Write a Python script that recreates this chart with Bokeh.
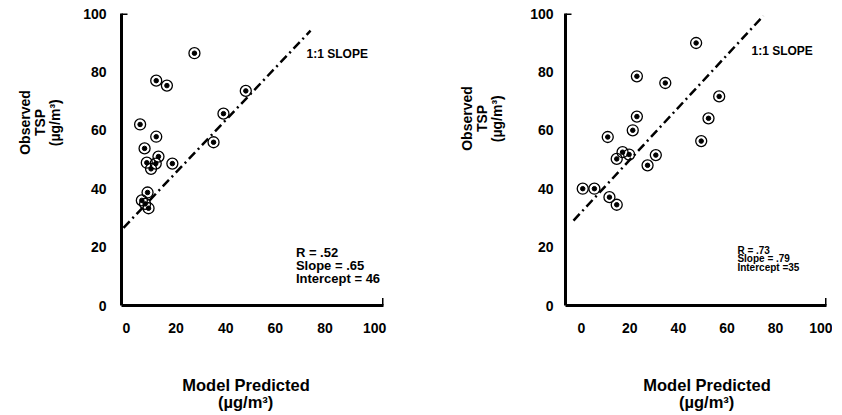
import math
from bokeh.plotting import figure
from bokeh.models import Range1d, FixedTicker, Label, Arrow, TeeHead, Title
from bokeh.layouts import row
from bokeh.embed import file_html
from bokeh.resources import INLINE

# ---------------- data ----------------
ticks = [0, 20, 40, 60, 80, 100]

left_pred = [27.4, 12.0, 16.3, 48.1, 39.1, 5.5, 12.0, 35.1, 7.3, 12.9, 18.5, 8.2, 9.9, 11.8, 8.5, 6.2, 7.5, 8.9]
left_obs = [86.4, 77.0, 75.3, 73.5, 65.7, 62.0, 57.8, 55.9, 53.8, 51.0, 48.6, 48.9, 46.8, 48.6, 38.7, 36.0, 34.8, 33.3]
left_line_x = [-1.2, 74.2]
left_line_y = [26.6, 94.1]
left_stats = ["R = .52", "Slope = .65", "Intercept = 46"]

right_pred = [47.3, 22.9, 34.6, 56.8, 22.9, 52.4, 10.9, 21.2, 49.4, 17.0, 19.7, 14.6, 30.7, 27.3, 0.6, 5.4, 11.6, 14.6]
right_obs = [89.9, 78.5, 76.2, 71.6, 64.7, 64.1, 57.7, 60.0, 56.3, 52.5, 51.7, 50.2, 51.5, 48.0, 40.0, 40.0, 37.1, 34.5]
right_line_x = [-3.2, 75.0]
right_line_y = [29.1, 99.2]
right_stats = ["R = .73", "Slope = .79", "Intercept =35"]

slope_text = "1:1 SLOPE"
x_title = ["Model Predicted", "(\u00b5g/m\u00b3)"]
y_title = ["Observed", "TSP", "(\u00b5g/m\u00b3)"]

FONT = "Liberation Sans"


def title(text, size, **kw):
    return Title(text=text, text_font=FONT, text_font_style="bold",
                 text_font_size=size, text_color="black", **kw)


def make_panel(fw, bl, br, x_start, x_end, pred, obs, lx, ly, stats,
               slope_xy, stats_x, stats_y, stats_size, y_std,
               xt_offsets, yt_offsets, yspacer_std):
    p = figure(frame_width=fw, frame_height=292, output_backend="svg", toolbar_location=None,
               x_range=Range1d(x_start, x_end), y_range=Range1d(0, 100),
               min_border_left=bl, min_border_right=br, min_border_top=13,
               min_border_bottom=107)
    p.outline_line_color = None
    p.xgrid.visible = False
    p.ygrid.visible = False
    for ax in (p.xaxis, p.yaxis):
        ax.ticker = FixedTicker(ticks=ticks)
        ax.axis_line_width = 3
        ax.axis_line_color = "black"
        ax.major_tick_line_color = None
        ax.minor_tick_line_color = None
        ax.major_tick_out = 0
        ax.major_tick_in = 0
        ax.major_label_text_font = FONT
        ax.major_label_text_font_style = "bold"
        ax.major_label_text_font_size = "14px"
        ax.major_label_text_color = "black"
    p.yaxis.major_label_standoff = y_std
    p.xaxis.major_label_standoff = 17

    # axis end caps
    p.add_layout(Arrow(end=TeeHead(size=12, line_width=3, line_color="black"),
                       x_start=x_start, y_start=0, x_end=x_start, y_end=100,
                       line_alpha=0))
    p.add_layout(Arrow(end=TeeHead(size=15, line_width=3, line_color="black"),
                       x_start=x_start, y_start=0, x_end=x_end, y_end=0,
                       line_alpha=0))

    # 1:1 line
    p.line(lx, ly, line_color="black", line_width=2.5, line_dash="9 4 2 4")
    # points
    p.scatter(pred, obs, marker="circle", size=11, fill_color=None,
              line_color="black", line_width=1.3)
    p.scatter(pred, obs, marker="circle", size=4.5, fill_color="black",
              line_color="black")

    p.add_layout(Label(x=slope_xy[0], y=slope_xy[1], text=slope_text,
                       text_font=FONT, text_font_style="bold", text_font_size="12px",
                       text_color="black", text_baseline="middle", text_align="left"))
    for s, yy in zip(stats, stats_y):
        p.add_layout(Label(x=stats_x, y=yy, text=s, text_font=FONT,
                           text_font_style="bold", text_font_size=stats_size,
                           text_color="black", text_baseline="middle", text_align="left"))

    # x-axis title (spacer, then two lines)
    p.add_layout(title(" ", "16.5px", standoff=19), "below")
    p.add_layout(title(x_title[0], "16.5px", align="left", offset=xt_offsets[0],
                       standoff=0, vertical_align="middle"), "below")
    p.add_layout(title(x_title[1], "16.5px", align="left", offset=xt_offsets[1],
                       standoff=-5, vertical_align="middle"), "below")

    # y-axis title (spacer, then three rotated lines, inner to outer)
    p.add_layout(title(" ", "14px", standoff=yspacer_std), "left")
    for s, off in zip(reversed(y_title), reversed(yt_offsets)):
        p.add_layout(title(s, "14px", align="left", offset=off, standoff=-2.6,
                           vertical_align="middle"), "left")
    return p


p1 = make_panel(262, 121, 44, -2.0, 103.6, left_pred, left_obs, left_line_x, left_line_y,
                left_stats, (72.6, 86.2), 68.3, [18.3, 13.8, 9.3], "13px", 15,
                (60.8, 96.5), (150.7, 169.4, 159.3), -0.5)
p2 = make_panel(261, 138, 6, -6.5, 101.0, right_pred, right_obs, right_line_x, right_line_y,
                right_stats, (70.1, 87.2), 64.3, [19.0, 16.0, 13.0], "10px", 12,
                (77.8, 113.5), (154.7, 173.4, 163.3), 4.5)

layout = row(p1, p2, spacing=0)
open("out.html", "w").write(file_html(layout, INLINE))
